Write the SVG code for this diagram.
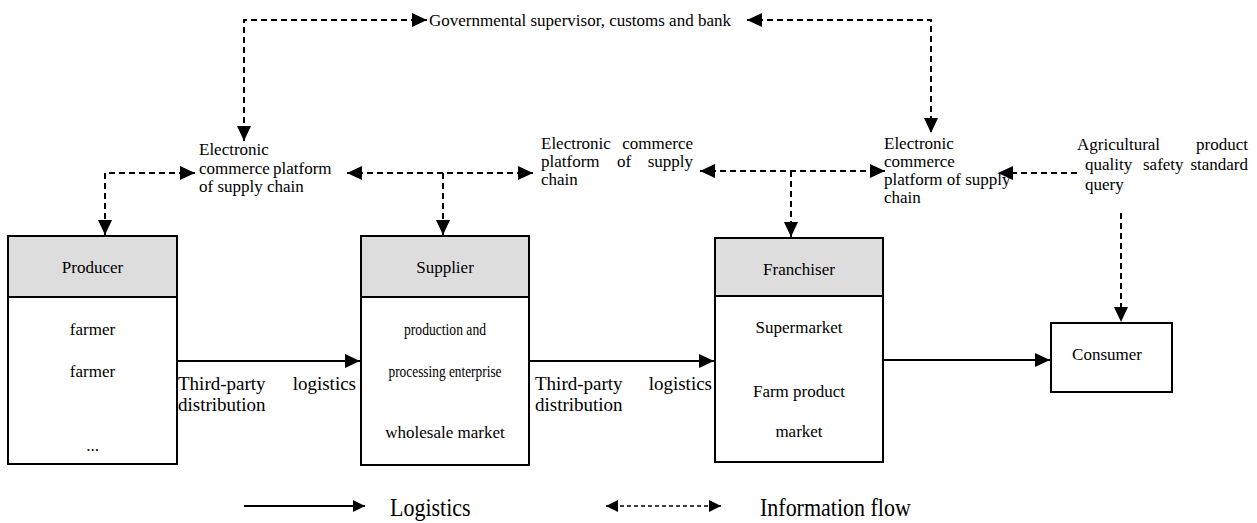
<svg xmlns="http://www.w3.org/2000/svg" width="1257" height="523" viewBox="0 0 1257 523">
<style>
.t{font-family:"Liberation Serif","Times New Roman",serif;font-size:17px;fill:#000}
.big{font-size:19px}
.box{fill:#fff;stroke:#000;stroke-width:2}
.hdr{fill:#dddddd;stroke:#000;stroke-width:2}
.sol{fill:none;stroke:#000;stroke-width:2}
.dash{fill:none;stroke:#000;stroke-width:2;stroke-dasharray:6 4}
</style>
<defs>
<marker id="ah" markerUnits="userSpaceOnUse" markerWidth="16" markerHeight="14" refX="15" refY="7" orient="auto-start-reverse" viewBox="0 0 16 14"><path d="M0,0 L15,7 L0,14 z" fill="#000"/></marker>
<marker id="as" markerUnits="userSpaceOnUse" markerWidth="13" markerHeight="12" refX="12" refY="6" orient="auto-start-reverse" viewBox="0 0 13 12"><path d="M0,0 L12,6 L0,12 z" fill="#000"/></marker>
</defs>

<g id="gov">
<text class="t" x="429" y="26">Governmental supervisor, customs and bank</text>
</g>

<g id="platform1">
<text class="t" x="199" y="155">Electronic</text>
<text class="t" x="199" y="174">commerce</text>
<text class="t" x="273" y="174">platform</text>
<text class="t" x="199" y="192">of supply chain</text>
</g>

<g id="platform2">
<text class="t" x="541" y="149">Electronic</text>
<text class="t" x="693" y="149" text-anchor="end">commerce</text>
<text class="t" x="541" y="167">platform</text>
<text class="t" x="617" y="167">of</text>
<text class="t" x="693" y="167" text-anchor="end">supply</text>
<text class="t" x="541" y="185">chain</text>
</g>

<g id="platform3">
<text class="t" x="884" y="149">Electronic</text>
<text class="t" x="884" y="167">commerce</text>
<text class="t" x="884" y="185">platform of supply</text>
<text class="t" x="884" y="203">chain</text>
</g>

<g id="query">
<text class="t" x="1077" y="150">Agricultural</text>
<text class="t" x="1248" y="150" text-anchor="end">product</text>
<text class="t" x="1085" y="170">quality</text>
<text class="t" x="1143" y="170">safety</text>
<text class="t" x="1248" y="170" text-anchor="end">standard</text>
<text class="t" x="1085" y="190">query</text>
</g>

<g id="producer">
<rect class="box" x="8" y="236" width="169" height="228"/>
<rect class="hdr" x="8" y="236" width="169" height="61"/>
<text class="t" x="92.5" y="273" text-anchor="middle">Producer</text>
<text class="t" x="92.5" y="335" text-anchor="middle">farmer</text>
<text class="t" x="92.5" y="377" text-anchor="middle">farmer</text>
<text class="t" x="92.5" y="451" text-anchor="middle">...</text>
</g>

<g id="supplier">
<rect class="box" x="361" y="236" width="168" height="229"/>
<rect class="hdr" x="361" y="236" width="168" height="61"/>
<text class="t" x="445" y="273" text-anchor="middle">Supplier</text>
<text class="t" x="404" y="335" textLength="82" lengthAdjust="spacingAndGlyphs">production and</text>
<text class="t" x="388.5" y="377" textLength="113" lengthAdjust="spacingAndGlyphs">processing enterprise</text>
<text class="t" x="445" y="438" text-anchor="middle">wholesale market</text>
</g>

<g id="franchiser">
<rect class="box" x="715" y="238" width="168" height="224"/>
<rect class="hdr" x="715" y="238" width="168" height="58"/>
<text class="t" x="799" y="275" text-anchor="middle">Franchiser</text>
<text class="t" x="799" y="333" text-anchor="middle">Supermarket</text>
<text class="t" x="799" y="397" text-anchor="middle">Farm product</text>
<text class="t" x="799" y="437" text-anchor="middle">market</text>
</g>

<g id="consumer">
<rect class="box" x="1051" y="323" width="121" height="69"/>
<text class="t" x="1107" y="360" text-anchor="middle">Consumer</text>
</g>

<g id="logistics-labels">
<text class="t big" x="178" y="390">Third-party</text>
<text class="t big" x="356" y="390" text-anchor="end">logistics</text>
<text class="t big" x="178" y="411">distribution</text>
<text class="t big" x="535" y="390">Third-party</text>
<text class="t big" x="712" y="390" text-anchor="end">logistics</text>
<text class="t big" x="535" y="411">distribution</text>
</g>

<g id="connectors">
<path class="sol" d="M177,361 H360" marker-end="url(#ah)"/>
<path class="sol" d="M529,361 H714" marker-end="url(#ah)"/>
<path class="sol" d="M883,360 H1050" marker-end="url(#ah)"/>

<path class="dash" d="M427,20 H244 V141" marker-start="url(#ah)" marker-end="url(#ah)"/>
<path class="dash" d="M747,20 H931 V133" marker-start="url(#ah)" marker-end="url(#ah)"/>

<path class="dash" d="M195,173 H105 V235" marker-start="url(#ah)" marker-end="url(#ah)"/>
<path class="dash" d="M347,173 H533" marker-start="url(#ah)" marker-end="url(#ah)"/>
<path class="dash" d="M443,173 V235" marker-end="url(#ah)"/>

<path class="dash" d="M700,171 H885" marker-start="url(#ah)" marker-end="url(#ah)"/>
<path class="dash" d="M791,171 V237" marker-end="url(#ah)"/>

<path class="dash" d="M1077,173 H998" marker-end="url(#ah)"/>
<path class="dash" d="M1121,213 V322" marker-end="url(#ah)"/>
</g>

<g id="legend">
<path class="sol" d="M244,506 H365" marker-end="url(#as)"/>
<text class="t" transform="translate(390,516) scale(1,1.15)" style="font-size:22px">Logistics</text>
<path fill="none" stroke="#000" stroke-width="1.5" stroke-dasharray="4 3" d="M606,506 H721" marker-start="url(#as)" marker-end="url(#as)"/>
<text class="t" transform="translate(760,516) scale(1,1.15)" style="font-size:22px">Information flow</text>
</g>
</svg>
